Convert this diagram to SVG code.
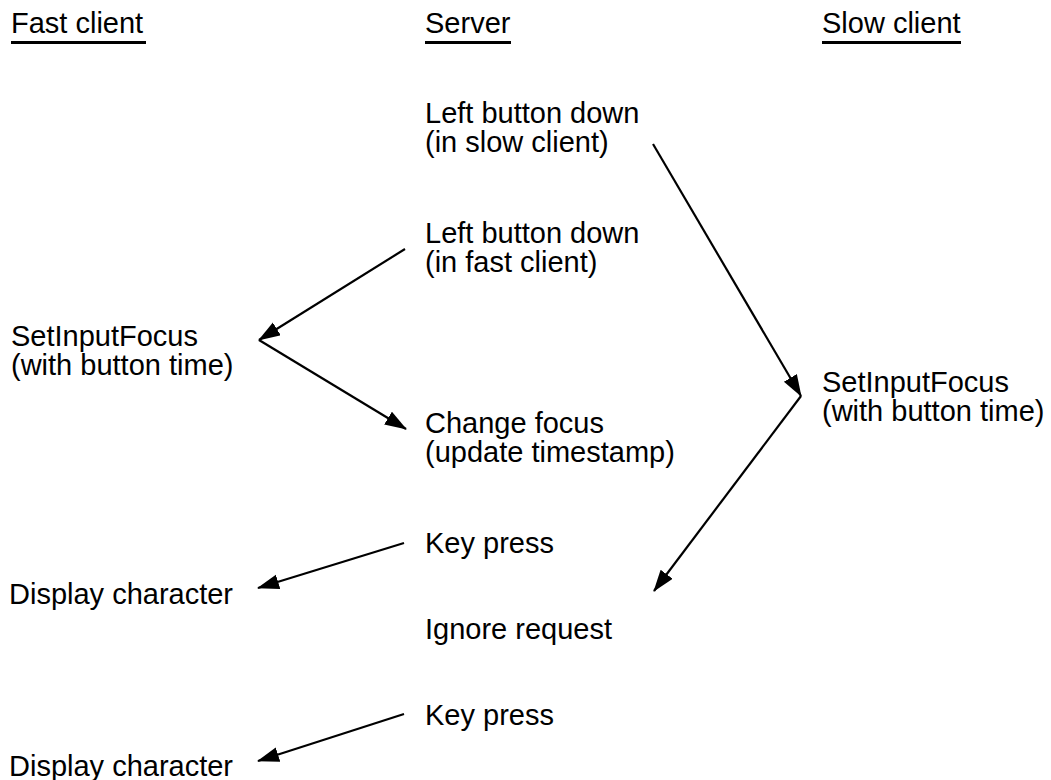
<svg xmlns="http://www.w3.org/2000/svg" width="1051" height="780" viewBox="0 0 1051 780">
<style>
text { font-family: "Liberation Sans", Arial, Helvetica, sans-serif; font-size: 29px; fill: #000; }
.ul { stroke: #000; stroke-width: 3; }
.conn line { stroke: #000; stroke-width: 2.2; fill: none; marker-end: url(#ah); }
</style>
<defs>
<marker id="ah" markerUnits="userSpaceOnUse" markerWidth="24" markerHeight="16" refX="21" refY="7.5" orient="auto" viewBox="0 0 24 16">
<path d="M0,0 L22,7.5 L0,15 z" fill="#000"/>
</marker>
</defs>
<rect width="1051" height="780" fill="#fff"/>
<g id="header-fast">
<text x="11" y="33">Fast client</text>
<line class="ul" x1="11" y1="42.5" x2="146" y2="42.5"/>
</g>
<g id="header-server">
<text x="425" y="33">Server</text>
<line class="ul" x1="425" y1="42.5" x2="511" y2="42.5"/>
</g>
<g id="header-slow">
<text x="822" y="33">Slow client</text>
<line class="ul" x1="822" y1="42.5" x2="961" y2="42.5"/>
</g>
<g id="lbd-slow">
<text x="425" y="123">Left button down</text>
<text x="425" y="152">(in slow client)</text>
</g>
<g id="lbd-fast">
<text x="425" y="243">Left button down</text>
<text x="425" y="272">(in fast client)</text>
</g>
<g id="sif-fast">
<text x="11" y="346">SetInputFocus</text>
<text x="11" y="375">(with button time)</text>
</g>
<g id="change-focus">
<text x="425" y="433">Change focus</text>
<text x="425" y="462">(update timestamp)</text>
</g>
<g id="sif-slow">
<text x="822" y="392">SetInputFocus</text>
<text x="822" y="421">(with button time)</text>
</g>
<g id="keypress-1">
<text x="425" y="553">Key press</text>
</g>
<g id="display-1">
<text x="9" y="604">Display character</text>
</g>
<g id="ignore">
<text x="425" y="639">Ignore request</text>
</g>
<g id="keypress-2">
<text x="425" y="725">Key press</text>
</g>
<g id="display-2">
<text x="9" y="776">Display character</text>
</g>
<g id="connectors" class="conn">
<line x1="653" y1="144" x2="801" y2="396"/>
<line x1="801" y1="396" x2="654" y2="591"/>
<line x1="405" y1="249" x2="259" y2="340"/>
<line x1="259" y1="340" x2="406" y2="429"/>
<line x1="404" y1="543" x2="258" y2="588"/>
<line x1="404" y1="714" x2="258" y2="761"/>
</g>
</svg>
